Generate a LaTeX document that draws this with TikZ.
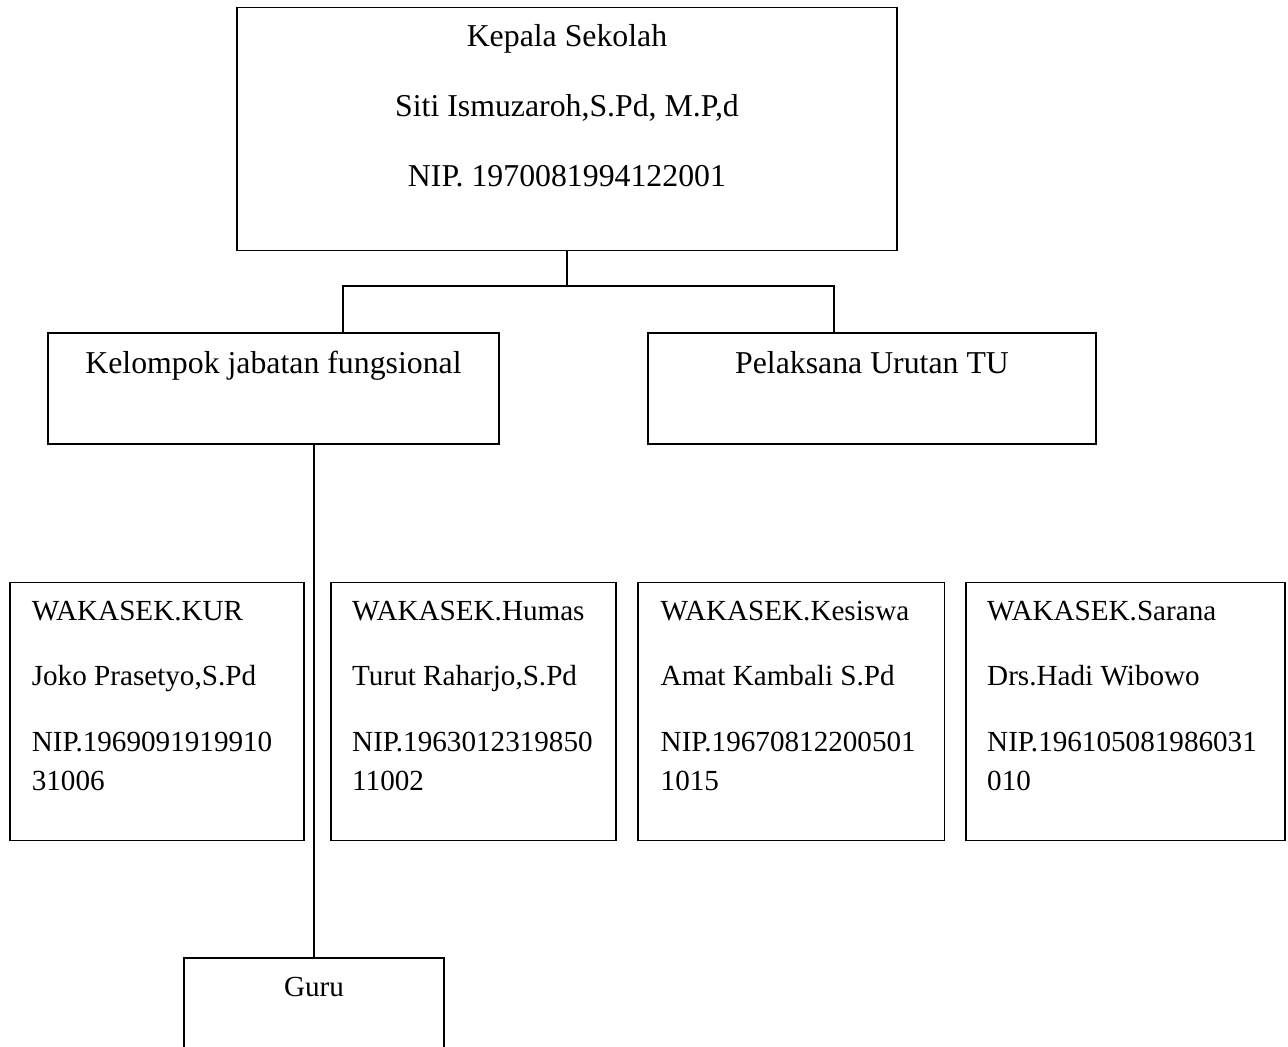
\documentclass[tikz,border=0pt]{standalone}
\usepackage{fontspec}
\setmainfont{Liberation Serif}
\begin{document}
\begin{tikzpicture}[x=1pt,y=-1pt,
  box/.style={draw=black,line width=1.5pt,inner sep=0pt,rectangle},
  txt/.style={inner sep=0pt,anchor=base,font=\fontsize{31.8}{38}\selectfont},
  stxt/.style={inner sep=0pt,anchor=base,font=\fontsize{29.15}{35}\selectfont},
  ltxt/.style={inner sep=0pt,anchor=base west,font=\fontsize{29.15}{35}\selectfont},
  conn/.style={draw=black,line width=1.5pt}]
\clip (0,0) rectangle (1288,1047);
\fill[white] (0,0) rectangle (1288,1047);
% top box
\node[box,minimum width=660pt,minimum height=243.4pt] (top) at (567,129) {};
\node[txt] (t1) at (567,46.7) {Kepala Sekolah};
\node[txt] (t2) at (567,116.7) {Siti Ismuzaroh,S.Pd, M.P,d};
\node[txt] (t3) at (567,186) {NIP. 1970081994122001};
% second level
\node[box,minimum width=451pt,minimum height=111.3pt] (kel) at (273.5,388.4) {};
\node[txt] (kelt) at (273.5,373) {Kelompok jabatan fungsional};
\node[box,minimum width=447.7pt,minimum height=111.3pt] (pel) at (872,388.4) {};
\node[txt] (pelt) at (872,373) {Pelaksana Urutan TU};
% connectors from top
\coordinate (jn) at (567,286);
\coordinate (jl) at (343,286);
\coordinate (jr) at (834,286);
\coordinate (kin) at (343,332.7);
\coordinate (pin) at (834,332.7);
\draw[conn] (top.south) -- (jn);
\draw[conn] (kin) -- (jl) -- (jr) -- (pin);
% WAKASEK boxes
\node[box,minimum width=294pt,minimum height=257.6pt] (w1) at (157,711.5) {};
\node[box,minimum width=285pt,minimum height=257.6pt] (w2) at (473.5,711.5) {};
\node[box,minimum width=306.7pt,minimum height=257.6pt] (w3) at (791.3,711.5) {};
\node[box,minimum width=319pt,minimum height=257.6pt] (w4) at (1125.5,711.5) {};
\node[ltxt] (w1a) at (31.6,620) {WAKASEK.KUR};
\node[ltxt] (w1b) at (31.6,685) {Joko Prasetyo,S.Pd};
\node[ltxt] (w1c) at (31.6,751.7) {NIP.1969091919910};
\node[ltxt] (w1d) at (31.6,790.7) {31006};
\node[ltxt] (w2a) at (352,620) {WAKASEK.Humas};
\node[ltxt] (w2b) at (352,685) {Turut Raharjo,S.Pd};
\node[ltxt] (w2c) at (352,751.7) {NIP.1963012319850};
\node[ltxt] (w2d) at (352,790.7) {11002};
\node[ltxt] (w3a) at (660.5,620) {WAKASEK.Kesiswa};
\node[ltxt] (w3b) at (660.5,685) {Amat Kambali S.Pd};
\node[ltxt] (w3c) at (660.5,751.7) {NIP.19670812200501};
\node[ltxt] (w3d) at (660.5,790.7) {1015};
\node[ltxt] (w4a) at (987,620) {WAKASEK.Sarana};
\node[ltxt] (w4b) at (987,685) {Drs.Hadi Wibowo};
\node[ltxt] (w4c) at (987,751.7) {NIP.196105081986031};
\node[ltxt] (w4d) at (987,790.7) {010};
% Guru
\node[box,minimum width=260pt,minimum height=142pt] (guru) at (314,1029) {};
\node[stxt] (gurut) at (314,996) {Guru};
\coordinate (kout) at (314,444);
\draw[conn] (kout) -- (guru.north);
\end{tikzpicture}
\end{document}
